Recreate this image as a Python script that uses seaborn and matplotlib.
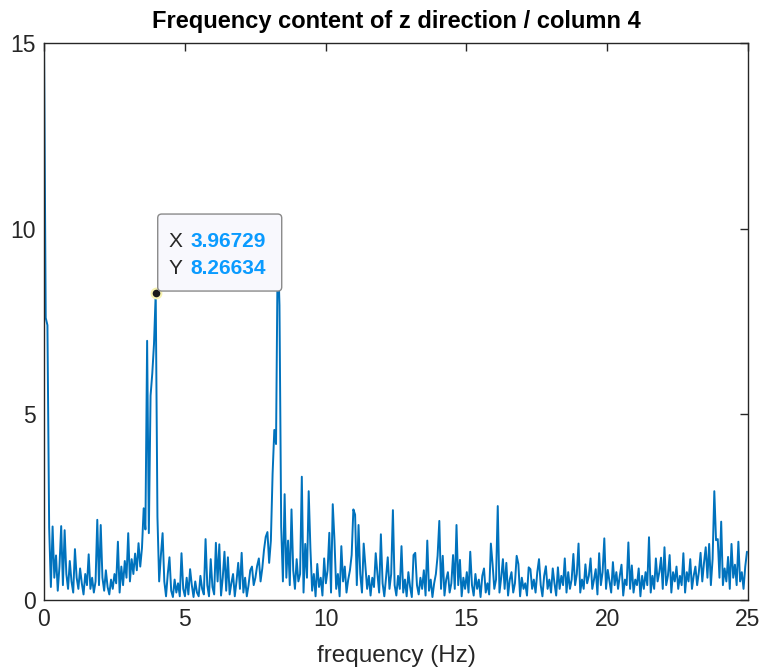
import numpy as np
import pandas as pd
import matplotlib
matplotlib.use('Agg')
import matplotlib.pyplot as plt
import matplotlib.transforms as mtransforms
from matplotlib.patches import FancyBboxPatch
import seaborn as sns

# frequency bin spacing (Hz) and single-sided amplitude spectrum
bin_step = 100 / 16384 * 10
amplitude = [
    15.0, 7.6, 7.4, 1.95, 0.35, 1.98, 0.6, 1.2, 0.25, 0.9,
    1.99, 0.4, 1.88, 0.7, 0.3, 1.05, 0.5, 0.2, 1.37, 0.6,
    0.3, 0.85, 0.45, 0.15, 0.7, 0.4, 1.23, 0.3, 0.6, 0.2,
    0.5, 2.16, 0.4, 2.02, 0.6, 0.25, 0.8, 0.35, 0.15, 0.55,
    0.3, 0.7, 0.45, 1.57, 0.2, 0.9, 0.4, 1.05, 0.6, 1.80,
    0.5, 1.1, 0.7, 1.25, 0.8, 1.53, 0.9, 1.4, 2.47, 1.9,
    6.98, 1.8, 5.5, 6.1, 6.9, 8.26634, 2.24, 0.5, 1.2, 1.80,
    0.5, 0.1, 0.7, 1.15, 0.25, 0.08, 0.55, 0.2, 0.45, 0.1,
    1.26, 0.3, 0.1, 0.6, 0.15, 0.83, 0.4, 0.08, 0.5, 0.2,
    0.1, 0.65, 0.3, 0.15, 1.64, 0.4, 0.1, 1.10, 0.35, 0.15,
    1.54, 0.5, 1.50, 0.12, 0.6, 1.30, 0.25, 1.15, 0.15, 0.45,
    0.7, 0.1, 0.5, 1.0, 0.3, 1.27, 0.2, 0.6, 0.1, 0.4,
    0.8, 0.90, 0.4, 0.6, 0.92, 1.12, 0.5, 0.85, 1.35, 1.70,
    1.83, 1.0, 1.6, 3.4, 4.58, 4.2, 9.6, 7.94, 1.98, 0.5,
    2.85, 0.6, 1.6, 0.4, 2.44, 0.8, 0.3, 1.1, 0.5, 0.7,
    3.32, 0.2, 1.51, 0.6, 2.93, 1.39, 0.25, 0.7, 0.1, 0.97,
    0.35, 0.6, 0.12, 1.12, 0.45, 0.8, 1.81, 0.2, 2.58, 1.61,
    0.3, 0.7, 0.1, 1.45, 0.5, 0.9, 0.2, 0.55, 0.8, 1.21,
    2.44, 2.3, 0.4, 2.02, 0.7, 0.2, 1.52, 0.9, 0.3, 0.65,
    0.12, 0.6, 0.35, 1.26, 0.7, 0.2, 1.77, 0.45, 0.1, 0.6,
    1.15, 0.3, 0.7, 2.42, 0.4, 0.12, 0.65, 0.3, 1.45, 0.2,
    0.55, 0.1, 0.75, 0.35, 0.08, 1.21, 1.27, 0.4, 0.15, 0.6,
    0.3, 0.8, 0.12, 1.60, 0.25, 0.55, 0.08, 0.45, 0.7, 1.19,
    2.13, 0.3, 1.19, 0.12, 0.55, 0.75, 0.2, 0.45, 1.21, 0.3,
    2.02, 0.4, 1.08, 0.1, 0.6, 0.3, 0.75, 0.2, 1.30, 0.4,
    0.12, 0.7, 0.3, 0.55, 0.08, 0.65, 0.85, 0.2, 0.45, 0.15,
    1.52, 0.96, 0.3, 0.55, 2.53, 0.2, 0.6, 1.10, 0.3, 1.0,
    0.12, 0.55, 0.75, 0.2, 0.45, 1.19, 0.97, 0.1, 0.6, 0.3,
    0.45, 0.12, 0.88, 0.83, 0.3, 0.55, 0.2, 0.75, 1.10, 0.4,
    0.1, 0.65, 0.91, 0.3, 0.55, 0.2, 0.85, 0.45, 0.12, 0.88,
    0.3, 0.65, 0.4, 1.12, 0.2, 0.75, 0.3, 0.55, 1.24, 0.4,
    0.7, 1.52, 0.2, 0.55, 0.3, 0.96, 0.45, 0.65, 1.12, 0.3,
    0.55, 0.83, 0.15, 1.26, 0.4, 0.75, 1.66, 0.3, 0.81, 0.5,
    0.2, 1.02, 0.4, 0.75, 0.3, 0.65, 0.95, 0.12, 0.55, 0.4,
    1.55, 0.3, 0.93, 0.2, 0.55, 0.4, 0.85, 0.1, 0.65, 0.3,
    0.75, 0.4, 1.69, 0.2, 0.65, 0.3, 1.12, 0.5, 0.75, 1.14,
    0.3, 1.42, 0.4, 0.65, 1.21, 0.2, 0.75, 0.5, 0.9, 0.3,
    0.65, 0.4, 1.26, 0.2, 0.75, 0.5, 1.10, 0.3, 0.65, 0.9,
    0.4, 0.75, 1.27, 0.5, 1.0, 1.42, 0.6, 1.51, 0.4, 1.1,
    2.93, 1.61, 1.64, 0.6, 2.11, 0.4, 0.85, 0.5, 1.16, 0.3,
    1.51, 0.6, 0.95, 0.4, 1.57, 0.5, 0.75, 0.3, 0.9, 1.30,
]
tip_x = 3.96729
tip_y = 8.26634
x_ticks = [0, 5, 10, 15, 20, 25]
y_ticks = [0, 5, 10, 15]

freq = np.arange(len(amplitude)) * bin_step
df = pd.DataFrame({'frequency': freq, 'amplitude': amplitude})

sns.set_style('white')
plt.rcParams['font.family'] = ['Liberation Sans', 'DejaVu Sans']
dark = '#262626'

fig = plt.figure(figsize=(7.64, 6.70), dpi=100)
ax = fig.add_axes([44 / 764, 1 - 600 / 670, 704 / 764, 557 / 670])
sns.lineplot(data=df, x='frequency', y='amplitude', color='#0072BD',
             linewidth=1.4, estimator=None, sort=False, ax=ax)
ax.set_xlim(0, 25)
ax.set_ylim(0, 15)
ax.set_xticks(x_ticks)
ax.set_yticks(y_ticks)
ax.tick_params(direction='in', length=6, width=1, top=True, right=True,
               labelsize=16.5, colors=dark, pad=6)
for s in ax.spines.values():
    s.set_visible(True)
    s.set_color(dark)
    s.set_linewidth(1)
ax.set_xlabel('frequency (Hz)', fontsize=17.5, color=dark, labelpad=10)
ax.set_ylabel('')
ax.set_title('Frequency content of z direction / column 4', fontsize=17,
             fontweight='bold', color='black', pad=11)

# data tip
ax.plot([tip_x], [tip_y], 'o', ms=7, mfc='#1a1a1a', mec='#f7f3b0', mew=1.5,
        zorder=5)
tip_trans = mtransforms.IdentityTransform() + \
    mtransforms.ScaledTranslation(tip_x, tip_y, ax.transData)
box = FancyBboxPatch((2, 2), 124, 77,
                     boxstyle='round,pad=0,rounding_size=4',
                     fc='#f8f8fd', ec='#8a8a8a', lw=1, transform=tip_trans,
                     zorder=6, clip_on=False)
ax.add_patch(box)
for label, value, dy in [('X', tip_x, 52), ('Y', tip_y, 25)]:
    ax.annotate(label, xy=(tip_x, tip_y), xytext=(13, dy),
                textcoords='offset pixels', fontsize=15, color=dark,
                ha='left', va='center', zorder=7)
    ax.annotate(f'{value:.5f}', xy=(tip_x, tip_y), xytext=(35, dy),
                textcoords='offset pixels', fontsize=15, color='#0a9bff',
                fontweight='bold', ha='left', va='center', zorder=7)

fig.savefig('out.png', dpi=100)
